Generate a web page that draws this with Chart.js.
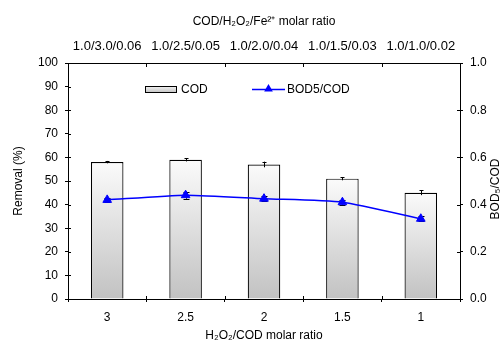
<!DOCTYPE html>
<html>
<head>
<meta charset="utf-8">
<script src="https://cdn.jsdelivr.net/npm/chart.js@4.4.0/dist/chart.umd.min.js"></script>
<style>
    html, body { margin: 0; padding: 0; background: #fff; }
</style>
</head>
<body>
<canvas id="chart" width="504" height="341"></canvas>
<script>
// Data
const categories = ['3', '2.5', '2', '1.5', '1'];
const topLabels = ['1.0/3.0/0.06', '1.0/2.5/0.05', '1.0/2.0/0.04', '1.0/1.5/0.03', '1.0/1.0/0.02'];
const codRemoval = [58, 59, 57, 51, 45];
const codError = [0.5, 0.7, 1.2, 0.7, 1.0];
const bodRatio = [0.42, 0.44, 0.425, 0.41, 0.34];
const bodError = [0.01, 0.015, 0.01, 0.01, 0.01];

const FONT = "'Liberation Sans', Arial, sans-serif";
Chart.defaults.font.family = FONT;
Chart.defaults.font.size = 12;
Chart.defaults.color = '#000';

// bar fill: light at the top, grey at the base, per bar
function barGradient(c) {
    const chart = c.chart;
    const y = chart.scales.y;
    if (!y || c.type !== 'data') return '#dddddd';
    const top = y.getPixelForValue(c.raw);
    const bottom = y.getPixelForValue(0);
    if (!isFinite(top) || !isFinite(bottom) || top === bottom) return '#dddddd';
    const g = chart.ctx.createLinearGradient(0, top, 0, bottom);
    g.addColorStop(0, '#fbfbfb');
    g.addColorStop(1, '#c2c2c2');
    return g;
}

// error bars, drawn after the bars and before the line
const errorBars = {
    id: 'errorBars',
    afterDatasetDraw(chart, args) {
        if (args.index !== 0) return;
        const ctx = chart.ctx;
        const y = chart.scales.y, y2 = chart.scales.y2;
        const bars = chart.getDatasetMeta(0).data;
        const pts = chart.getDatasetMeta(1).data;
        ctx.save();
        ctx.strokeStyle = '#000';
        ctx.lineWidth = 1;
        ctx.beginPath();
        bars.forEach((b, i) => {
            const x = Math.round(b.x) + 0.5;
            const t = y.getPixelForValue(codRemoval[i] + codError[i]);
            const d = y.getPixelForValue(codRemoval[i] - codError[i]);
            ctx.moveTo(x, t); ctx.lineTo(x, d);
            ctx.moveTo(x - 2, Math.round(t) + 0.5); ctx.lineTo(x + 2, Math.round(t) + 0.5);
        });
        pts.forEach((p, i) => {
            const x = Math.round(p.x) + 0.5;
            const t = y2.getPixelForValue(bodRatio[i] + bodError[i]);
            const d = y2.getPixelForValue(bodRatio[i] - bodError[i]);
            ctx.moveTo(x, t); ctx.lineTo(x, d);
            ctx.moveTo(x - 3, Math.round(t) + 0.5); ctx.lineTo(x + 3, Math.round(t) + 0.5);
            ctx.moveTo(x - 3, Math.round(d) + 0.5); ctx.lineTo(x + 3, Math.round(d) + 0.5);
        });
        ctx.stroke();
        ctx.restore();
    }
};

// tick marks poking into the plot area, legend inside the plot, right title
const decorations = {
    id: 'decorations',
    afterDraw(chart) {
        const ctx = chart.ctx;
        const a = chart.chartArea;
        const s = chart.scales;
        ctx.save();
        ctx.strokeStyle = '#000';
        ctx.lineWidth = 1;
        ctx.beginPath();
        s.y.ticks.forEach(t => {
            const py = Math.round(s.y.getPixelForValue(t.value)) + 0.5;
            ctx.moveTo(a.left, py); ctx.lineTo(a.left + 3, py);
        });
        s.y2.ticks.forEach(t => {
            const py = Math.round(s.y2.getPixelForValue(t.value)) + 0.5;
            ctx.moveTo(a.right - 3, py); ctx.lineTo(a.right, py);
        });
        for (let i = 1; i < categories.length; i++) {
            const px = Math.round(s.x.getPixelForValue(i - 0.5)) + 0.5;
            ctx.moveTo(px, a.bottom); ctx.lineTo(px, a.bottom - 3);
            ctx.moveTo(px, a.top); ctx.lineTo(px, a.top + 4);
        }
        ctx.stroke();

        // legend
        const ds = chart.data.datasets;
        const ly = a.top + 26;
        const bx = a.left + 77;
        const g = ctx.createLinearGradient(0, ly - 3, 0, ly + 3);
        g.addColorStop(0, '#f4f4f4');
        g.addColorStop(1, '#c8c8c8');
        ctx.fillStyle = g;
        ctx.fillRect(bx, ly - 3, 32, 6);
        ctx.strokeRect(bx + 0.5, ly - 2.5, 31, 6);
        ctx.fillStyle = '#000';
        ctx.font = '12px ' + FONT;
        ctx.textBaseline = 'middle';
        ctx.textAlign = 'left';
        ctx.fillText(ds[0].label, bx + 36, ly + 0.5);

        const lx = a.left + 184;
        ctx.strokeStyle = '#0000ff';
        ctx.lineWidth = 1.5;
        ctx.beginPath();
        ctx.moveTo(lx, ly + 0.5); ctx.lineTo(lx + 33, ly + 0.5);
        ctx.stroke();
        ctx.fillStyle = '#0000ff';
        const cx = lx + 16.5, r = 5;
        ctx.beginPath();
        ctx.moveTo(cx, ly - r);
        ctx.lineTo(cx + r * 0.866, ly + r * 0.5);
        ctx.lineTo(cx - r * 0.866, ly + r * 0.5);
        ctx.closePath();
        ctx.fill();
        ctx.fillStyle = '#000';
        ctx.fillText(ds[1].label, lx + 35, ly + 0.5);

        // right axis title, reading bottom to top
        ctx.translate(a.right + 36, (a.top + a.bottom) / 2 + 8);
        ctx.rotate(-Math.PI / 2);
        ctx.textAlign = 'center';
        ctx.fillText('BOD\u2085/COD', 0, 0);
        ctx.restore();
    }
};

new Chart(document.getElementById('chart'), {
    type: 'bar',
    data: {
        labels: categories,
        datasets: [{
            type: 'bar',
            label: 'COD',
            data: codRemoval,
            yAxisID: 'y',
            order: 2,
            backgroundColor: barGradient,
            borderColor: '#000',
            borderWidth: 1.2,
            categoryPercentage: 1,
            barPercentage: 0.415
        }, {
            type: 'line',
            label: 'BOD5/COD',
            data: bodRatio,
            yAxisID: 'y2',
            order: 1,
            borderColor: '#0000ff',
            borderWidth: 1.5,
            tension: 0.2,
            pointStyle: 'triangle',
            pointRadius: 5,
            pointBackgroundColor: '#0000ff',
            pointBorderColor: '#0000ff',
            pointBorderWidth: 1
        }]
    },
    options: {
        responsive: false,
        animation: false,
        layout: { padding: 0 },
        plugins: { legend: { display: false }, tooltip: { enabled: false } },
        scales: {
            x: {
                position: 'bottom',
                offset: true,
                grid: { drawOnChartArea: false, tickLength: 3, color: '#000', offset: true },
                border: { color: '#000', width: 1 },
                ticks: { padding: 8, color: '#000' },
                title: { display: true, text: 'H\u2082O\u2082/COD molar ratio', padding: { top: 0, bottom: -2 } },
                afterFit: sc => { sc.height = 42; }
            },
            xTop: {
                type: 'category',
                position: 'top',
                labels: topLabels,
                offset: true,
                grid: { drawOnChartArea: false, drawTicks: false, color: '#000', offset: true },
                border: { color: '#000', width: 1 },
                ticks: { padding: 9, color: '#000', font: { size: 13 } },
                title: { display: true, text: 'COD/H\u2082O\u2082/Fe\u00B2\u207A molar ratio', padding: { top: 14, bottom: 0 }, font: { size: 12 } },
                afterFit: sc => { sc.height = 63; }
            },
            y: {
                position: 'left',
                min: 0,
                max: 100,
                grid: { drawOnChartArea: false, tickLength: 3, color: '#000' },
                border: { color: '#000', width: 1 },
                ticks: { stepSize: 10, padding: 7, color: '#000' },
                title: { display: true, text: 'Removal (%)', padding: { top: 11, bottom: 0 } },
                afterFit: sc => { sc.width = 68; }
            },
            y2: {
                position: 'right',
                min: 0,
                max: 1,
                grid: { drawOnChartArea: false, tickLength: 3, color: '#000' },
                border: { color: '#000', width: 1 },
                ticks: { stepSize: 0.2, padding: 7, color: '#000', callback: v => v.toFixed(1) },
                afterFit: sc => { sc.width = 44; }
            }
        }
    },
    plugins: [errorBars, decorations]
});
</script>
</body>
</html>
